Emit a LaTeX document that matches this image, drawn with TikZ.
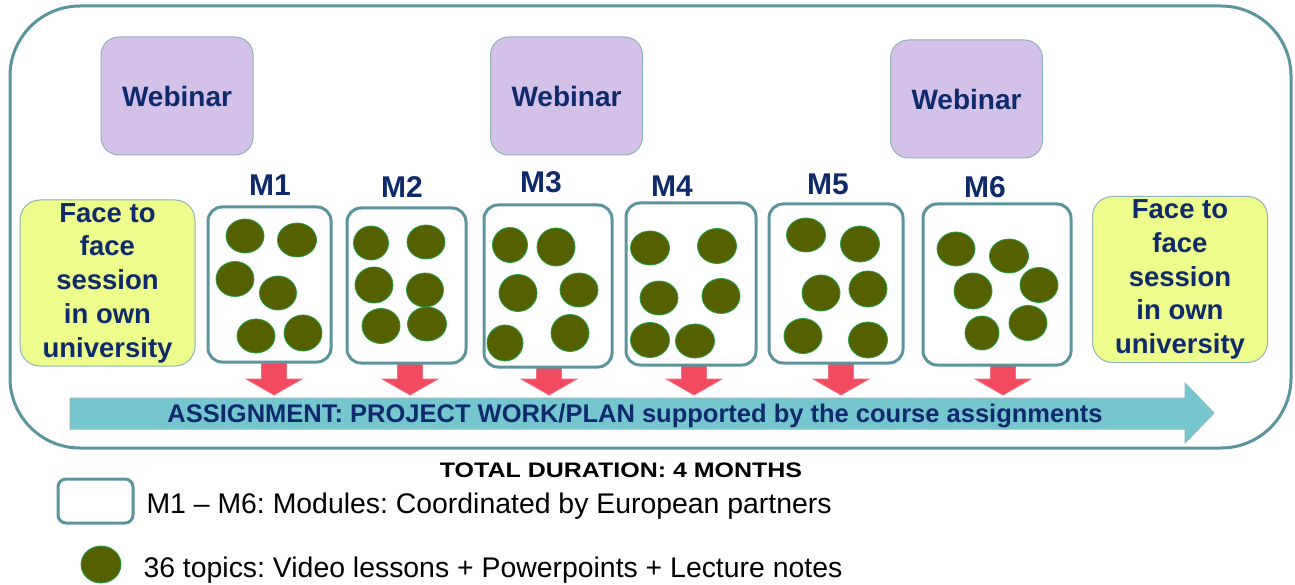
\documentclass[tikz,border=0pt]{standalone}
\usepackage{fontspec}
\setmainfont{Liberation Sans}
\usepackage{graphicx}
\frenchspacing

\definecolor{frameteal}{HTML}{5B959C}
\definecolor{navytext}{HTML}{0F2A6B}
\definecolor{webfill}{HTML}{D4C1EA}
\definecolor{facefill}{HTML}{EDFC8A}
\definecolor{boxedge}{HTML}{8FB2BC}
\definecolor{topicfill}{HTML}{556000}
\definecolor{topicedge}{HTML}{22A045}
\definecolor{dropred}{HTML}{F24A5F}
\definecolor{assignfill}{HTML}{76C6CF}
\definecolor{assignedge}{HTML}{8FB9C0}

\tikzset{
  frame/.style={draw=frameteal, line width=3, rounded corners=70},
  webbox/.style={fill=webfill, draw=boxedge, line width=1, rounded corners=18,
    minimum width=152, minimum height=118, inner sep=0, text=navytext,
    font=\fontsize{28}{33}\selectfont\bfseries},
  facebox/.style={fill=facefill, draw=boxedge, line width=1, rounded corners=20,
    minimum width=175, minimum height=166, inner sep=0, align=center, text=navytext,
    font=\fontsize{27.5}{33.75}\selectfont\bfseries},
  modbox/.style={fill=white, draw=frameteal, line width=3, rounded corners=14, inner sep=0},
  modlabel/.style={anchor=base, text=navytext, font=\fontsize{30}{36}\selectfont\bfseries},
  topic/.style={fill=topicfill, draw=topicedge, line width=0.8},
  droparrow/.style={fill=dropred, draw=dropred!80!white, line width=0.8},
  assignarrow/.style={fill=assignfill, draw=assignedge, line width=1},
  legendtext/.style={anchor=base west, text=black, font=\fontsize{28.4}{34}\selectfont}
}

% red block arrow under a module, #1 = centre x
\newcommand{\moddrop}[1]{%
  \draw[droparrow] (#1-12.5,363) -- (#1+12.5,363) -- (#1+12.5,379) -- (#1+28,379)
    -- (#1,395) -- (#1-28,379) -- (#1-12.5,379) -- cycle;}

\begin{document}
\begin{tikzpicture}[x=1pt,y=-1pt]
\useasboundingbox (0,0) rectangle (1295,585);
% Outer frame
\draw[frame] (10,6) rectangle (1291,448);
% Webinars
\node[webbox] (web1) at (177,96) {Webinar};
\node[webbox] (web2) at (566.5,96) {Webinar};
\node[webbox] (web3) at (966.5,99) {Webinar};
% Face to face sessions
\node[facebox] (face1) at (107.5,283) {Face to\\face\\session\\in own\\university};
\node[facebox] (face2) at (1180,279.5) {Face to\\face\\session\\in own\\university};
% Arrows down to the assignment
\moddrop{274}
\moddrop{410}
\moddrop{549}
\moddrop{694}
\moddrop{841}
\moddrop{1003}
% Modules
\node[modbox, minimum width=123, minimum height=155] (mod1) at (269.5,284.5) {};
\node[modbox, minimum width=119, minimum height=155] (mod2) at (406.5,285.5) {};
\node[modbox, minimum width=128, minimum height=162] (mod3) at (548,286) {};
\node[modbox, minimum width=130, minimum height=162] (mod4) at (691,284) {};
\node[modbox, minimum width=134, minimum height=159] (mod5) at (836,283.5) {};
\node[modbox, minimum width=148, minimum height=161] (mod6) at (997,284.5) {};
\node[modlabel] (lbl1) at (270,196) {M1};
\node[modlabel] (lbl2) at (402,198) {M2};
\node[modlabel] (lbl3) at (541,193) {M3};
\node[modlabel] (lbl4) at (672,197) {M4};
\node[modlabel] (lbl5) at (828,195) {M5};
\node[modlabel] (lbl6) at (985,198) {M6};
% Topics M1
\draw[topic] (245,236) ellipse (19 and 17);
\draw[topic] (297,240) ellipse (19.5 and 17);
\draw[topic] (235,279) ellipse (19 and 17.5);
\draw[topic] (278,293) ellipse (18.5 and 17);
\draw[topic] (256,336) ellipse (19 and 17);
\draw[topic] (303,333) ellipse (19 and 18);
% Topics M2
\draw[topic] (371,243) ellipse (17.5 and 17);
\draw[topic] (426,242) ellipse (19 and 17);
\draw[topic] (374,285) ellipse (19 and 18);
\draw[topic] (425,290) ellipse (18.5 and 17);
\draw[topic] (381,326) ellipse (19 and 17.5);
\draw[topic] (427,324) ellipse (19.5 and 17);
% Topics M3
\draw[topic] (510,245) ellipse (17.5 and 17.5);
\draw[topic] (556,247) ellipse (19 and 19);
\draw[topic] (518,293) ellipse (19 and 18.5);
\draw[topic] (579,290) ellipse (19 and 17);
\draw[topic] (505,343) ellipse (18 and 18);
\draw[topic] (570,333) ellipse (19 and 18.5);
% Topics M4
\draw[topic] (650,248) ellipse (19.5 and 17);
\draw[topic] (717,246) ellipse (19.5 and 17.5);
\draw[topic] (659,298) ellipse (19 and 17);
\draw[topic] (721,296) ellipse (19 and 17.5);
\draw[topic] (650,340) ellipse (19.5 and 17.5);
\draw[topic] (695,341) ellipse (19.5 and 17);
% Topics M5
\draw[topic] (806,235) ellipse (19.5 and 17);
\draw[topic] (860,244) ellipse (19.5 and 18);
\draw[topic] (821,293) ellipse (19 and 18);
\draw[topic] (868,289) ellipse (19 and 18);
\draw[topic] (803,336) ellipse (19 and 17.5);
\draw[topic] (868,340) ellipse (19.5 and 18);
% Topics M6
\draw[topic] (956,249) ellipse (19 and 17);
\draw[topic] (1009,256) ellipse (19.5 and 17);
\draw[topic] (973,291) ellipse (19 and 18);
\draw[topic] (1039,285) ellipse (19 and 17.5);
\draw[topic] (982,333) ellipse (17 and 17);
\draw[topic] (1028,323) ellipse (19 and 17.5);
% Assignment arrow
\draw[assignarrow] (70,398) -- (1185,398) -- (1185,383) -- (1214,413) -- (1185,443)
  -- (1185,429) -- (70,429) -- cycle;
\node[anchor=base, text=navytext, font=\fontsize{25.5}{30}\selectfont\bfseries] (assign)
  at (635,422.7) {ASSIGNMENT: PROJECT WORK/PLAN supported by the course assignments};
% Legend
\node[anchor=base, text=black, font=\fontsize{21}{25}\selectfont\bfseries] (total)
  at (621,477) {\scalebox{1.19}[1]{TOTAL DURATION: 4 MONTHS}};
\node[modbox, minimum width=75, minimum height=44, rounded corners=8] (legmod) at (95.5,501) {};
\node[legendtext] (legmodtext) at (143,513) {M1 – M6: Modules: Coordinated by European partners};
\draw[topic] (101,564.5) ellipse (20 and 18.5);
\node[legendtext] (legtopictext) at (140,577) {36 topics: Video lessons + Powerpoints + Lecture notes};
\end{tikzpicture}
\end{document}
